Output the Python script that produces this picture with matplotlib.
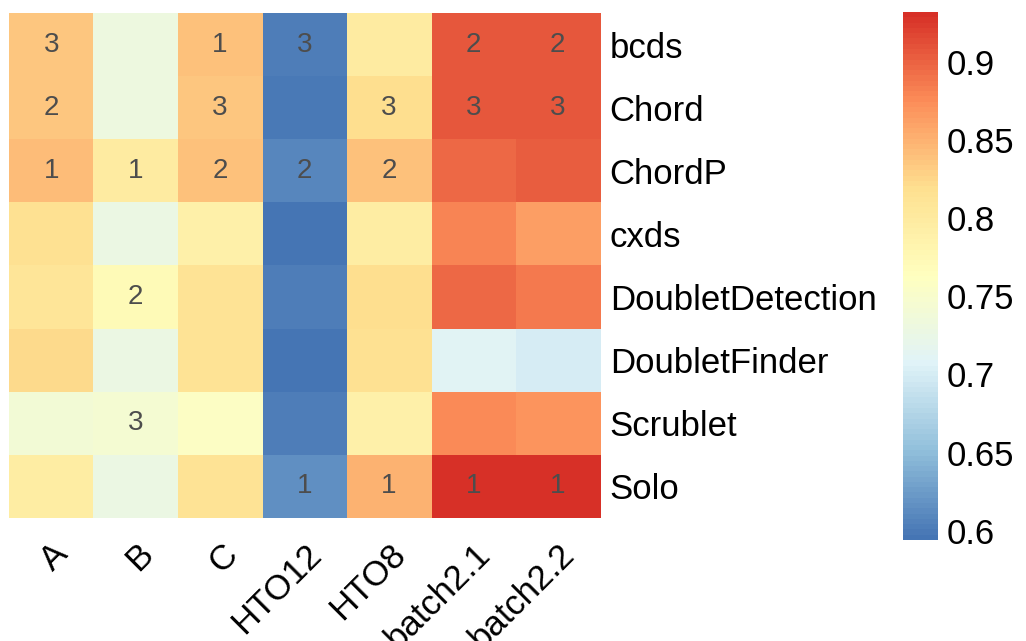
import matplotlib
matplotlib.use("Agg")
import matplotlib.pyplot as plt
import numpy as np
from matplotlib.colors import LinearSegmentedColormap

columns = ["A", "B", "C", "HTO12", "HTO8", "batch2.1", "batch2.2"]
methods = ["bcds", "Chord", "ChordP", "cxds", "DoubletDetection",
           "DoubletFinder", "Scrublet", "Solo"]

bcds             = [0.834, 0.730, 0.840, 0.603, 0.800, 0.906, 0.906]
Chord            = [0.836, 0.730, 0.836, 0.599, 0.820, 0.905, 0.905]
ChordP           = [0.842, 0.800, 0.838, 0.610, 0.839, 0.898, 0.903]
cxds             = [0.815, 0.728, 0.790, 0.597, 0.795, 0.878, 0.862]
DoubletDetection = [0.810, 0.770, 0.812, 0.601, 0.818, 0.895, 0.888]
DoubletFinder    = [0.822, 0.726, 0.812, 0.594, 0.816, 0.710, 0.700]
Scrublet         = [0.740, 0.745, 0.758, 0.601, 0.790, 0.877, 0.870]
Solo             = [0.795, 0.726, 0.812, 0.617, 0.850, 0.932, 0.931]

rank_bcds             = ["3", "", "1", "3", "", "2", "2"]
rank_Chord            = ["2", "", "3", "", "3", "3", "3"]
rank_ChordP           = ["1", "1", "2", "2", "2", "", ""]
rank_cxds             = ["", "", "", "", "", "", ""]
rank_DoubletDetection = ["", "2", "", "", "", "", ""]
rank_DoubletFinder    = ["", "", "", "", "", "", ""]
rank_Scrublet         = ["", "3", "", "", "", "", ""]
rank_Solo             = ["", "", "", "1", "1", "1", "1"]

values = np.array([bcds, Chord, ChordP, cxds, DoubletDetection,
                   DoubletFinder, Scrublet, Solo])
ranks = [rank_bcds, rank_Chord, rank_ChordP, rank_cxds, rank_DoubletDetection,
         rank_DoubletFinder, rank_Scrublet, rank_Solo]

palette = ["#4575B4", "#91BFDB", "#E0F3F8", "#FFFFBF", "#FEE090", "#FC8D59", "#D73027"]
cmap = LinearSegmentedColormap.from_list("pheat", palette, N=100)

plt.rcParams['font.family'] = ['Liberation Sans', 'DejaVu Sans']

W, H = 1026, 641
fig = plt.figure(figsize=(W / 100, H / 100), dpi=100)
ax = fig.add_axes([9 / W, 1 - 518 / H, (600 - 9) / W, (518 - 13) / H])

vmin, vmax = values.min(), values.max()
im = ax.imshow(values, cmap=cmap, vmin=vmin, vmax=vmax, aspect='auto',
               interpolation='nearest')

for i in range(len(methods)):
    for j in range(len(columns)):
        if ranks[i][j]:
            ax.text(j, i, ranks[i][j], ha='center', va='center',
                    fontsize=20, color='#4D4D4D')

ax.yaxis.tick_right()
ax.set_yticks(range(len(methods)))
ax.set_yticklabels(methods, fontsize=25)
ax.set_xticks(range(len(columns)))
ax.set_xticklabels(columns, fontsize=25, rotation=45, ha='right',
                   va='top', rotation_mode='anchor')
ax.tick_params(axis='both', length=0)
ax.tick_params(axis='y', pad=7)
ax.tick_params(axis='x', pad=14)
for s in ax.spines.values():
    s.set_visible(False)

cax = fig.add_axes([903 / W, 1 - 540 / H, 35 / W, (540 - 12) / H])
cb = fig.colorbar(im, cax=cax)
cb.outline.set_visible(False)
cb.set_ticks([0.6, 0.65, 0.7, 0.75, 0.8, 0.85, 0.9])
cb.set_ticklabels(["0.6", "0.65", "0.7", "0.75", "0.8", "0.85", "0.9"])
cax.tick_params(length=0, labelsize=25, pad=6)

fig.savefig("out.png", dpi=100)
